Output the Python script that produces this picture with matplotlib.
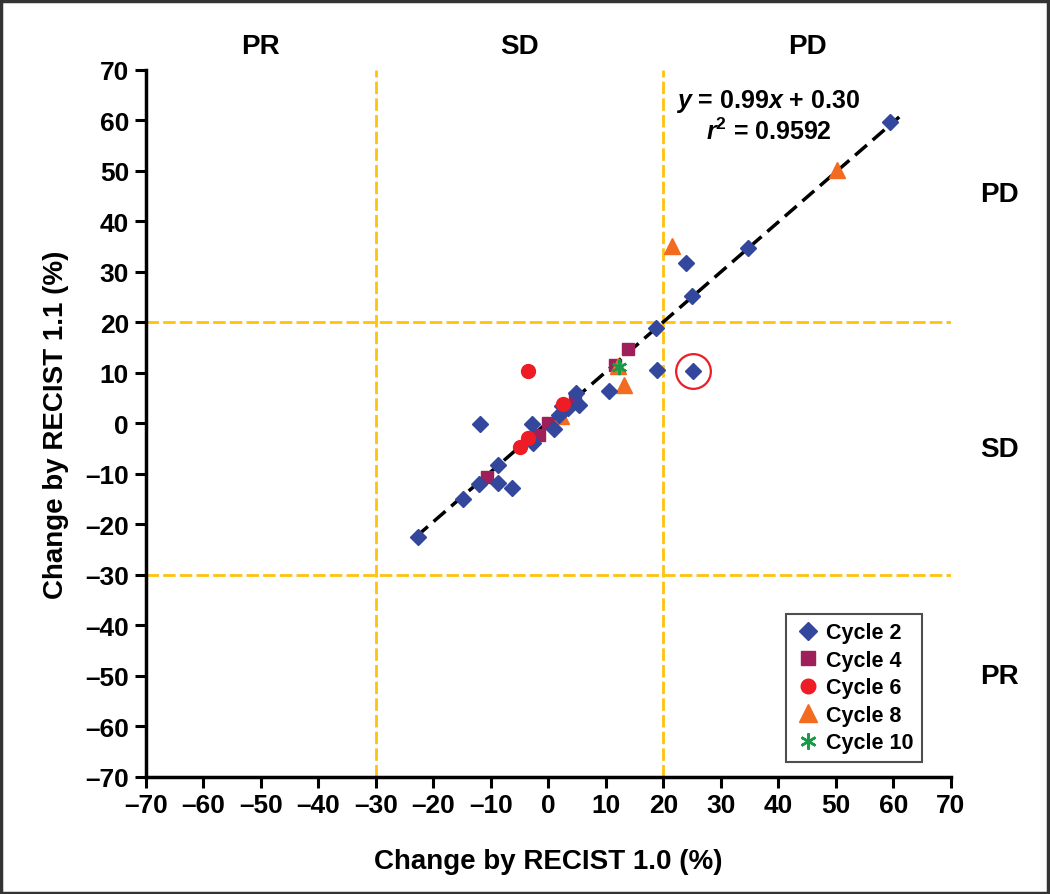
import matplotlib
matplotlib.use('Agg')
import matplotlib.pyplot as plt
from matplotlib.patches import Rectangle

plt.rcParams['font.family'] = ['Liberation Sans Narrow', 'Liberation Sans', 'DejaVu Sans']
plt.rcParams['font.weight'] = 'bold'
plt.rcParams['mathtext.fontset'] = 'custom'
plt.rcParams['mathtext.bf'] = 'Liberation Sans:bold'
plt.rcParams['mathtext.bfit'] = 'Liberation Sans:bold:italic'

# Daten: Veränderung nach RECIST 1.0 (x) und RECIST 1.1 (y)
c2_x = [18.8, 18.9, 10.6, 4.8, 5.4, 2.4, 3.4, 1.9, -2.8, 1.0, -11.9, -2.6, -8.7,
        -12.1, -8.7, -6.3, -14.8, -22.6, 59.4, 34.7, 23.9, 25.0, 25.2]
c2_y = [18.9, 10.6, 6.5, 6.0, 3.7, 3.5, 3.1, 1.7, -0.1, -1.2, -0.1, -3.8, -8.3,
        -12.0, -11.8, -12.8, -14.9, -22.6, 59.6, 34.7, 31.7, 25.2, 10.4]
c4_x = [13.8, 11.5, 4.6, 0.0, -1.7, -10.7]
c4_y = [14.7, 11.6, 5.0, 0.0, -2.4, -10.6]
c6_x = [-3.6, 2.5, -3.5, -4.9]
c6_y = [10.3, 3.9, -2.9, -4.7]
c8_x = [12.1, 13.2, 50.1, 21.5, 2.2]
c8_y = [11.4, 7.6, 50.2, 35.2, 1.5]
c10_x = [12.2]
c10_y = [11.2]

# Regression
slope = 0.99
intercept = 0.30
fit_x = [-23, 61]

# markierter Punkt
mark_x = [25.2]
mark_y = [10.4]

ticks = list(range(-70, 71, 10))

fig = plt.figure(figsize=(10.5, 8.95), dpi=100)
ax = fig.add_axes([0.1388, 0.1311, 0.9057 - 0.1388, 0.9207 - 0.1311])

# Rahmen um die ganze Grafik
fig.patches.append(Rectangle((0.001, 0.001), 0.997, 0.997, transform=fig.transFigure,
                             fill=False, edgecolor='#333333', linewidth=2.5))

# gelbe Grenzlinien
gelb = '#FFC20E'
for v in [-30, 20]:
    ax.plot([v, v], [-70, 70], color=gelb, lw=2, linestyle=(0, (4.5, 1.5)), zorder=1)
for h in [-30, 20]:
    ax.plot([-70, 70], [h, h], color=gelb, lw=2, linestyle=(0, (4.5, 1.5)), zorder=1)

# Regressionslinie
ax.plot(fit_x, [slope * v + intercept for v in fit_x], color='black', lw=2.5,
        linestyle=(0, (4.5, 2.2)), zorder=2)

ax.plot(c2_x, c2_y, 'D', color='#33479C', ms=8.5, mec='#33479C', linestyle='none',
        label='Cycle 2', zorder=5)
ax.plot(c4_x, c4_y, 's', color='#9E1F5A', ms=9, mec='#9E1F5A', linestyle='none',
        label='Cycle 4', zorder=3)
ax.plot(c6_x, c6_y, 'o', color='#EE1C25', ms=10, mec='#EE1C25', linestyle='none',
        label='Cycle 6', zorder=6)
ax.plot(c8_x, c8_y, '^', color='#F26B21', ms=12, mec='#F26B21', linestyle='none',
        label='Cycle 8', zorder=4)
ax.plot(c10_x, c10_y, marker=(6, 2, 0), color='#1A9A48', ms=11, mew=1.8,
        linestyle='none', label='Cycle 10', zorder=7)

# Kreis um den auffälligen Punkt
ax.plot(mark_x, mark_y, 'o', mfc='none', mec='#EE1C25', ms=25, mew=1.6, zorder=8)

ax.set_xlim(-70, 70)
ax.set_ylim(-70, 70)
ax.set_xticks(ticks)
ax.set_yticks(ticks)
ax.set_xticklabels([str(t).replace('-', '\u2013') for t in ticks])
ax.set_yticklabels([str(t).replace('-', '\u2013') for t in ticks])
ax.tick_params(direction='out', length=8, width=2.2, labelsize=19, pad=4)
for s in ['top', 'right']:
    ax.spines[s].set_visible(False)
for s in ['left', 'bottom']:
    ax.spines[s].set_linewidth(2.5)

ax.set_xlabel('Change by RECIST 1.0 (%)', fontsize=20, fontweight='bold', labelpad=22)
ax.set_ylabel('Change by RECIST 1.1 (%)', fontsize=20, fontweight='bold', labelpad=12,
              family=['Liberation Sans', 'DejaVu Sans'])

# Bereichsbeschriftungen
for lab, xv in [('PR', -50), ('SD', -5), ('PD', 45)]:
    ax.text(xv, 74.8, lab, ha='center', va='center', fontsize=20, fontweight='bold',
            clip_on=False)
for lab, yv in [('PD', 45.5), ('SD', -5), ('PR', -50)]:
    ax.text(78.5, yv, lab, ha='center', va='center', fontsize=20, fontweight='bold',
            clip_on=False, family=['Liberation Sans', 'DejaVu Sans'])

ax.text(38.2, 63.9, r'$\mathbfit{y}$ = 0.99$\mathbfit{x}$ + 0.30', ha='center',
        va='center', fontsize=18, fontweight='bold',
        family=['Liberation Sans', 'DejaVu Sans'])
ax.text(38.3, 57.9, r'$\mathbfit{r}^{\mathbf{2}}$ = 0.9592', ha='center', va='center',
        fontsize=18, fontweight='bold', family=['Liberation Sans', 'DejaVu Sans'])

leg = ax.legend(loc='lower right', bbox_to_anchor=(0.964, 0.021), borderaxespad=0,
                frameon=True, fancybox=False, labelspacing=0.3,
                handletextpad=0.25, handlelength=1.2, borderpad=0.4, markerscale=1.05,
                prop={'family': ['Liberation Sans', 'DejaVu Sans'], 'weight': 'bold',
                      'size': 15.5})
leg.get_frame().set_edgecolor('#222222')
leg.get_frame().set_linewidth(1.5)

fig.savefig('out.png', dpi=100)
